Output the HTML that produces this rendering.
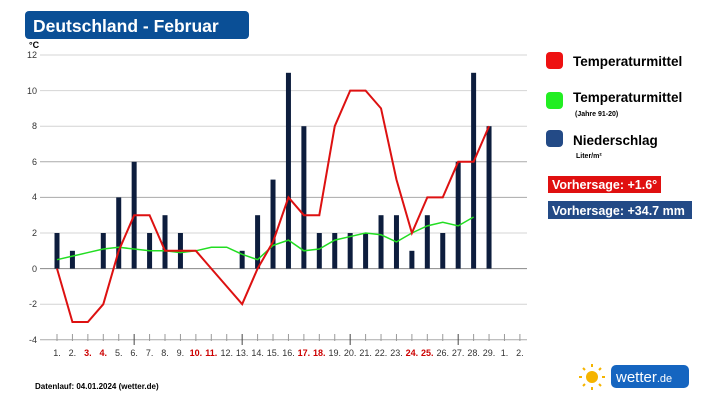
<!DOCTYPE html>
<html><head><meta charset="utf-8"><style>
body{margin:0;width:717px;height:403px;background:#fff;overflow:hidden;font-family:"Liberation Sans",sans-serif}
</style></head><body>
<svg width="717" height="403" xmlns="http://www.w3.org/2000/svg" font-family="Liberation Sans, sans-serif">
<rect x="25" y="11" width="224" height="28" rx="4" fill="#0a4f96"/>
<text x="33" y="32" font-size="17.5" font-weight="bold" fill="#fff">Deutschland - Februar</text>
<text x="29" y="48" font-size="9" font-weight="bold">°C</text>
<g stroke="#d4d4d4" stroke-width="1">
<line x1="40" x2="527" y1="55" y2="55"/><line x1="40" x2="527" y1="90.6" y2="90.6"/>
<line x1="40" x2="527" y1="126.2" y2="126.2"/><line x1="40" x2="527" y1="161.8" y2="161.8" stroke="#aaa"/>
<line x1="40" x2="527" y1="197.4" y2="197.4" stroke="#aaa"/><line x1="40" x2="527" y1="233" y2="233"/>
<line x1="40" x2="527" y1="268.6" y2="268.6" stroke="#888"/><line x1="40" x2="527" y1="304.2" y2="304.2"/>
<line x1="40" x2="527" y1="339.8" y2="339.8" stroke="#aaa"/>
</g>
<g font-size="9" fill="#333" text-anchor="end">
<text x="37" y="58">12</text><text x="37" y="94">10</text><text x="37" y="129">8</text><text x="37" y="165">6</text>
<text x="37" y="200">4</text><text x="37" y="236">2</text><text x="37" y="272">0</text><text x="37" y="307">-2</text><text x="37" y="343">-4</text>
</g>
<g id="bars" fill="#0d1d3d"></g>
<polyline id="green" fill="none" stroke="#22dd22" stroke-width="1.5"/>
<polyline id="red" fill="none" stroke="#dd1111" stroke-width="2"/>
<g id="ticks" stroke="#999"></g>
<g id="labels" font-size="9" text-anchor="middle"></g>
<text x="35" y="389" font-size="8" font-weight="bold">Datenlauf: 04.01.2024 (wetter.de)</text>
<rect x="546" y="52" width="17" height="17" rx="4" fill="#ee1111"/>
<text x="573" y="66" font-size="13.5" font-weight="bold">Temperaturmittel</text>
<rect x="546" y="92" width="17" height="17" rx="4" fill="#22ee22"/>
<text x="573" y="102" font-size="13.5" font-weight="bold">Temperaturmittel</text>
<text x="575" y="116" font-size="7" font-weight="bold">(Jahre 91-20)</text>
<rect x="546" y="130" width="17" height="17" rx="4" fill="#234a86"/>
<text x="573" y="145" font-size="13.5" font-weight="bold">Niederschlag</text>
<text x="576" y="158" font-size="7" font-weight="bold">Liter/m²</text>
<rect x="548" y="176" width="113" height="17" fill="#e01010"/>
<text x="552" y="189" font-size="12.5" font-weight="bold" fill="#fff">Vorhersage: +1.6°</text>
<rect x="548" y="201" width="144" height="18" fill="#234a86"/>
<text x="552" y="215" font-size="12.5" font-weight="bold" fill="#fff">Vorhersage: +34.7 mm</text>
<g fill="#f5b400"><circle cx="592" cy="377" r="6"/>
<g stroke="#f5b400" stroke-width="2"><line x1="592" y1="364" x2="592" y2="367"/><line x1="592" y1="387" x2="592" y2="390"/><line x1="579" y1="377" x2="582" y2="377"/><line x1="602" y1="377" x2="605" y2="377"/><line x1="583" y1="368" x2="585" y2="370"/><line x1="599" y1="384" x2="601" y2="386"/><line x1="583" y1="386" x2="585" y2="384"/><line x1="599" y1="370" x2="601" y2="368"/></g></g>
<rect x="611" y="365" width="78" height="23" rx="5" fill="#1565c0"/>
<text x="616" y="382" font-size="15" fill="#fff">wetter<tspan font-size="11">.de</tspan></text>
</svg>
<script>
const X=d=>57+(d-1)*15.43, Y=v=>268.6-v*17.8, ns="http://www.w3.org/2000/svg";
const rain={1:2,2:1,4:2,5:4,6:6,7:2,8:3,9:2,13:1,14:3,15:5,16:11,17:8,18:2,19:2,20:2,21:2,22:3,23:3,24:1,25:3,26:2,27:6,28:11,29:8};
const bars=document.getElementById('bars');
for(const d in rain){const r=document.createElementNS(ns,'rect');r.setAttribute('x',X(+d)-2.5);r.setAttribute('width',5);r.setAttribute('y',Y(rain[d]));r.setAttribute('height',rain[d]*17.8);bars.appendChild(r);}
const red=[0,-3,-3,-2,1,3,3,1,1,1,0,-1,-2,0,1.5,4,3,3,8,10,10,9,5,2,4,4,6,6,8];
const green=[0.5,0.7,0.9,1.1,1.2,1.1,1,1,0.9,1,1.2,1.2,0.8,0.5,1.3,1.6,1,1.1,1.6,1.8,2,1.9,1.5,2,2.4,2.6,2.4,2.9];
document.getElementById('red').setAttribute('points',red.map((v,i)=>X(i+1)+','+Y(v)).join(' '));
document.getElementById('green').setAttribute('points',green.map((v,i)=>X(i+1)+','+Y(v)).join(' '));
const t=document.getElementById('ticks'),l=document.getElementById('labels');
const labs=[];for(let i=1;i<=29;i++)labs.push(i);labs.push(1,2);
const redD=[3,4,10,11,17,18,24,25];
labs.forEach((n,i)=>{const x=X(i+1);const ln=document.createElementNS(ns,'line');ln.setAttribute('x1',x);ln.setAttribute('x2',x);ln.setAttribute('y1',334);ln.setAttribute('y2',(i%7==5)?345:341);if(i%7==5)ln.setAttribute('stroke','#444');t.appendChild(ln);
const tx=document.createElementNS(ns,'text');tx.setAttribute('x',x);tx.setAttribute('y',356);tx.textContent=n+'.';
if(i<29&&redD.includes(n)){tx.setAttribute('fill','#c00');tx.setAttribute('font-weight','bold');}else tx.setAttribute('fill','#333');l.appendChild(tx);});
</script>
</body></html>
